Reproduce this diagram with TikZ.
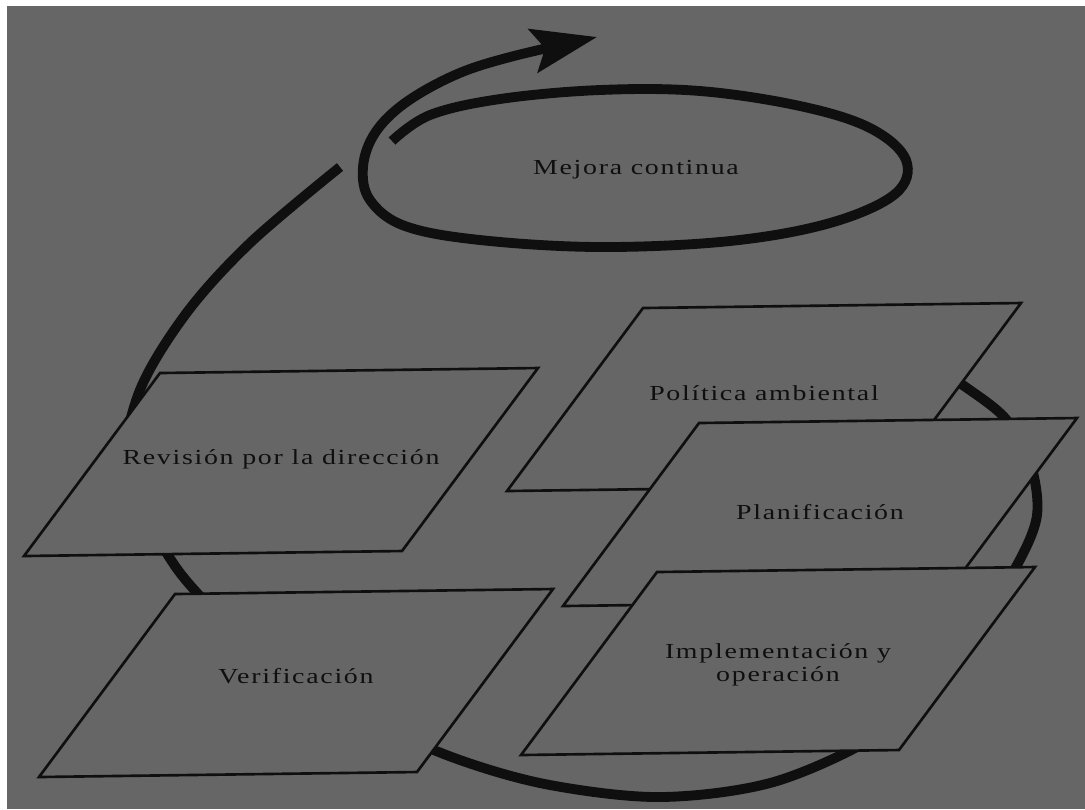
\documentclass[tikz,border=0pt]{standalone}
\usepackage{fontspec}
\setmainfont{Liberation Serif}[FakeStretch=1.3,LetterSpace=8]
\usetikzlibrary{arrows.meta}

\definecolor{scan}{gray}{0.40}
\definecolor{ink}{gray}{0.06}

\tikzset{
  card/.style={draw=ink, fill=scan, line width=0.75pt},
  cycleline/.style={draw=ink, line width=2.8pt},
  tag/.style={font=\fontsize{6.1pt}{6.6pt}\selectfont, align=center, text=ink},
}

\begin{document}
\begin{tikzpicture}[x=0.1mm, y=-0.1mm]
\fill[white] (0,0) rectangle (1085,809);
\fill[scan] (7,6) rectangle (1085,809);
\useasboundingbox (0,0) rectangle (1085,809);

% big cycle, mostly behind the cards
\draw[cycleline] plot[smooth, tension=0.55] coordinates {(905,345) (960,383) (1005,418) (1030,462) (1037,515) (1017,565) (985,610) (950,655) (905,705) (866,742) (770,783) (660,797) (550,785) (460,760) (380,725) (290,670) (225,620) (190,585) (166,552) (125,480) (138,395) (185,315) (250,243) (340,167)};

% spiral round the ellipse, ending in the arrow
\draw[cycleline, -{Stealth[length=6.5mm, width=4.4mm, inset=1.2mm]}] plot[smooth, tension=0.6] coordinates {(392,141) (430,115) (500,99) (600,90) (700,91) (800,106) (870,128) (906,160) (895,194) (830,223) (730,241) (600,247) (480,240) (405,226) (370,200) (363,167) (375,133) (405,103) (455,75) (510,57) (597,37)};
\node[tag] (mejora) at (636,170) {Mejora continua};

% the five cards
\foreach \cx/\cy/\ty/\nm/\txt in {
  281/462/-3/rev/{Revisión por la dirección},
  296/683/-7/ver/Verificación,
  764/397/-4/pol/{Política ambiental},
  820/512/0/pla/Planificación,
  778/661/4/imp/{Implementación y\\operación}}
{
  \draw[card] (\cx,\cy) ++(-257,94) -- ++(378,-5) -- ++(136,-183) -- ++(-378,5) -- cycle;
  \node[tag] (\nm) at (\cx,\cy+\ty) {\txt};
}
\end{tikzpicture}
\end{document}
